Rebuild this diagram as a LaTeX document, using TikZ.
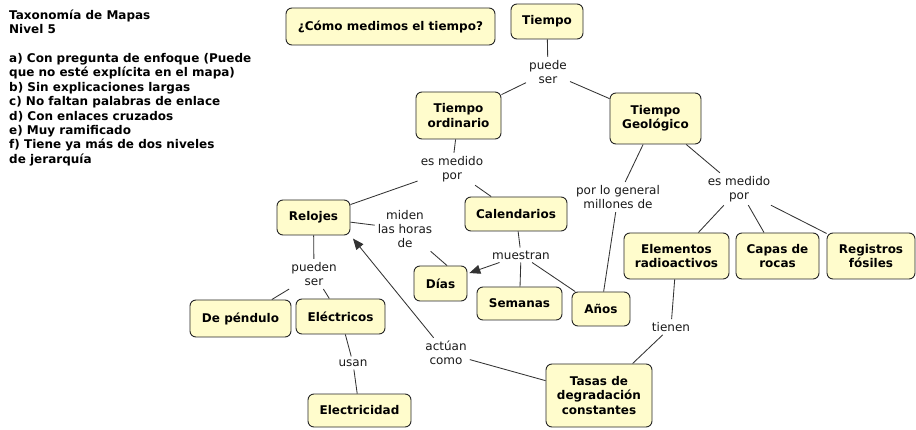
\documentclass[tikz,border=0pt]{standalone}
\usepackage{fontspec}
\setmainfont{DejaVu Sans}
\usetikzlibrary{arrows.meta}
\begin{document}
\begin{tikzpicture}[x=1pt,y=-1pt,
 concept/.style={draw=black!85,fill=yellow!20,rounded corners=6pt,line width=0.9pt,font=\fontsize{12}{14.4}\selectfont\bfseries,align=center,inner sep=0pt},
 lnk/.style={font=\fontsize{12}{14.4}\selectfont,align=center,inner xsep=3pt,inner ysep=3pt,text=black!90},
 conn/.style={draw=black!80,line width=0.85pt},
 arr/.style={conn,-{Triangle[length=11pt,width=9pt]}},
]
\useasboundingbox (0,0) rectangle (916,430);

% header text
\node[anchor=north west,align=left,inner sep=0pt,font=\fontsize{12}{14.4}\selectfont\bfseries] (tax) at (9,9.5)
 {Taxonomía de Mapas\\Nivel 5\\[14.4pt]
  a) Con pregunta de enfoque (Puede\\
  que no esté explícita en el mapa)\\
  b) Sin explicaciones largas\\
  c) No faltan palabras de enlace\\
  d) Con enlaces cruzados\\
  e) Muy ramificado\\
  f) Tiene ya más de dos niveles\\
  de jerarquía};

% concepts
\node[concept,minimum width=209pt,minimum height=37pt] (q) at (390.5,26.5) {¿Cómo medimos el tiempo?};
\node[concept,minimum width=72pt,minimum height=35pt] (tiempo) at (547,21.5) {Tiempo};
\node[concept,minimum width=85pt,minimum height=47pt] (tord) at (458.5,115.5) {Tiempo\\ordinario};
\node[concept,minimum width=91pt,minimum height=51pt] (tgeo) at (655.5,118.5) {Tiempo\\Geológico};
\node[concept,minimum width=73pt,minimum height=35pt] (relojes) at (313.5,217.5) {Relojes};
\node[concept,minimum width=102pt,minimum height=34pt] (cal) at (516,214) {Calendarios};
\node[concept,minimum width=53pt,minimum height=35pt] (dias) at (440.5,283.5) {Días};
\node[concept,minimum width=85pt,minimum height=33pt] (sem) at (519.5,303.5) {Semanas};
\node[concept,minimum width=58pt,minimum height=34pt] (anos) at (601,309) {Años};
\node[concept,minimum width=105pt,minimum height=46pt] (elem) at (676.5,256) {Elementos\\radioactivos};
\node[concept,minimum width=83pt,minimum height=46pt] (capas) at (777.5,256) {Capas de\\rocas};
\node[concept,minimum width=88pt,minimum height=46pt] (reg) at (871,256) {Registros\\fósiles};
\node[concept,minimum width=106pt,minimum height=63pt] (tasas) at (599,395.5) {Tasas de\\degradación\\constantes};
\node[concept,minimum width=101pt,minimum height=37pt] (depend) at (240.5,318.5) {De péndulo};
\node[concept,minimum width=89pt,minimum height=35pt] (elec) at (340.5,316.5) {Eléctricos};
\node[concept,minimum width=103pt,minimum height=33pt] (electr) at (359.5,410.5) {Electricidad};

% linking phrases
\node[lnk] (l1) at (548,72) {puede\\ser};
\node[lnk] (l2) at (452,169) {es medido\\por};
\node[lnk] (l3) at (405,229) {miden\\las horas\\de};
\node[lnk] (l4) at (521,255) {muestran};
\node[lnk] (l5) at (618,197) {por lo general\\millones de};
\node[lnk] (l6) at (739,189) {es medido\\por};
\node[lnk] (l7) at (671,327) {tienen};
\node[lnk] (l8) at (446,353) {actúan\\como};
\node[lnk] (l9) at (314,274) {pueden\\ser};
\node[lnk] (l10) at (353,363) {usan};

% connectors
\draw[conn] (tiempo) -- (l1);
\draw[conn] (l1) -- (tord);
\draw[conn] (l1) -- (tgeo);
\draw[conn] (tord) -- (l2);
\draw[conn] (l2) -- (relojes);
\draw[conn] (l2) -- (cal);
\draw[conn] (relojes) -- (l3);
\draw[conn] (l3) -- (dias.70);
\draw[conn] (cal) -- (l4);
\draw[arr,shorten >=2pt] (l4) -- (dias.20);
\draw[conn] (l4) -- (sem);
\draw[conn] (l4) -- (anos);
\draw[conn] (tgeo) -- (l5);
\draw[conn] (l5) -- (anos);
\draw[conn] (tgeo) -- (l6);
\draw[conn] (l6) -- (elem);
\draw[conn] (l6) -- (capas);
\draw[conn] (l6) -- (reg);
\draw[conn] (elem) -- (l7);
\draw[conn] (l7) -- (tasas);
\draw[conn] (tasas) -- (l8);
\draw[arr,shorten >=4pt] (l8) -- (relojes.south east);
\draw[conn] (relojes) -- (l9);
\draw[conn] (l9) -- (depend);
\draw[conn] (l9) -- (elec);
\draw[conn] (elec) -- (l10);
\draw[conn] (l10) -- (electr);
\end{tikzpicture}
\end{document}
